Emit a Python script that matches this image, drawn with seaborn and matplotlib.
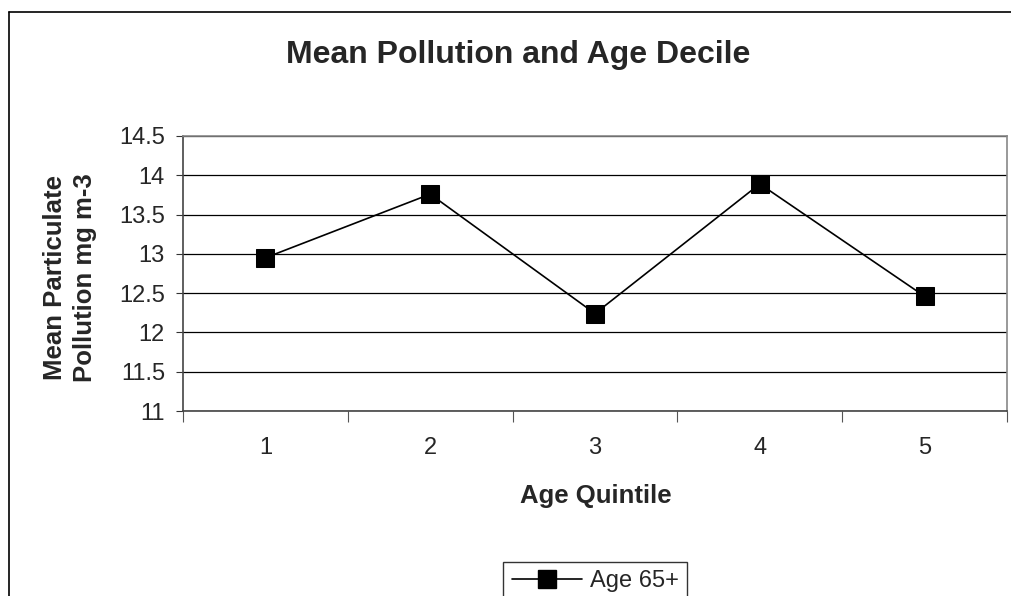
import matplotlib
matplotlib.use("Agg")
import matplotlib.pyplot as plt
from matplotlib.lines import Line2D
from matplotlib.ticker import FixedLocator
import seaborn as sns
import pandas as pd

quintiles = [1, 2, 3, 4, 5]
pollution = [12.95, 13.76, 12.24, 13.89, 12.46]
series_name = "Age 65+"
title = "Mean Pollution and Age Decile"
xlabel = "Age Quintile"
ylabel = "Mean Particulate\nPollution mg m-3"
yticks = [11, 11.5, 12, 12.5, 13, 13.5, 14, 14.5]

df = pd.DataFrame({"quintile": quintiles, "pollution": pollution, "series": series_name})

sns.set_style("white")
plt.rcParams["font.family"] = ["Liberation Sans", "DejaVu Sans"]

W, H = 1012, 596
L, R, T, B = 183, 1007, 136, 411
fig = plt.figure(figsize=(W / 100, H / 100), dpi=100)
ax = fig.add_axes([L / W, 1 - B / H, (R - L) / W, (B - T) / H])

sns.lineplot(data=df, x="quintile", y="pollution", ax=ax, color="black",
             marker="s", markersize=13, linewidth=1.2, markeredgecolor="black",
             legend=False)

ax.set_xlim(0.5, 5.5)
ax.set_ylim(11, 14.5)
ax.yaxis.set_major_locator(FixedLocator(yticks))
ax.set_yticklabels([f"{v:g}" for v in yticks])
ax.grid(axis="y", color="black", linewidth=0.9)
ax.set_axisbelow(True)

ax.xaxis.set_major_locator(FixedLocator(quintiles))
ax.xaxis.set_minor_locator(FixedLocator([0.5, 1.5, 2.5, 3.5, 4.5, 5.5]))
ax.tick_params(axis="x", which="major", length=0, pad=19, labelsize=17)
ax.tick_params(axis="x", which="minor", length=8, width=0.8, color="#555555", direction="out", bottom=True)
ax.tick_params(axis="y", which="major", length=5, width=0.8, color="#333333", direction="out", left=True, labelsize=17, pad=8)

for s in ["top", "right"]:
    ax.spines[s].set_color("#888888")
    ax.spines[s].set_linewidth(1.2)
for s in ["left", "bottom"]:
    ax.spines[s].set_color("#444444")
    ax.spines[s].set_linewidth(1.2)
for s in ax.spines.values():
    s.set_visible(True)

ax.set_xlabel(xlabel, fontsize=18.5, fontweight="bold")
ax.xaxis.label.set_va("center")
ax.xaxis.set_label_coords((596 - L) / (R - L), (B - 496) / (B - T))
ax.set_ylabel(ylabel, fontsize=18.5, fontweight="bold", linespacing=1.35)
ax.yaxis.label.set_va("center")
ax.yaxis.set_label_coords((70 - L) / (R - L), (B - 278) / (B - T))

fig.text(518 / W, 1 - 55 / H, title, ha="center", va="center", fontsize=23, fontweight="bold")

# outer chart border
fig.add_artist(Line2D([9 / W, 1.0], [1 - 12 / H, 1 - 12 / H], transform=fig.transFigure, color="black", linewidth=1.2))
fig.add_artist(Line2D([9 / W, 9 / W], [0, 1 - 12 / H], transform=fig.transFigure, color="black", linewidth=1.2))

handle = Line2D([], [], color="black", marker="s", markersize=13, linewidth=1.2)
leg = fig.legend([handle], [series_name], loc="center", bbox_to_anchor=(595 / W, 1 - 581 / H),
                 frameon=True, fancybox=False, fontsize=17, handlelength=3.0, handletextpad=0.3,
                 borderpad=0.35, borderaxespad=0)
leg.get_frame().set_edgecolor("black")
leg.get_frame().set_linewidth(1.0)

fig.savefig("out.png", dpi=100)
